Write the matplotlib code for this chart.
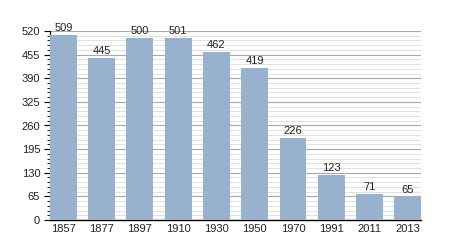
import numpy as np
import matplotlib.pyplot as plt
from matplotlib.ticker import MultipleLocator

years = ['1857', '1877', '1897', '1910', '1930', '1950', '1970', '1991', '2011', '2013']
population = [509, 445, 500, 501, 462, 419, 226, 123, 71, 65]
y_ticks = [0, 65, 130, 195, 260, 325, 390, 455, 520]

plt.rcParams['font.family'] = ['Liberation Sans', 'DejaVu Sans']

fig = plt.figure(figsize=(4.5, 2.5), dpi=100)
ax = fig.add_axes([0.111, 0.12, 0.825, 0.756])

x = np.arange(len(years))
bars = ax.bar(x, population, width=0.7, color='#98b1cd', zorder=3)

for xi, v in zip(x, population):
    ax.text(xi, v + 5, str(v), ha='center', va='bottom', fontsize=8, color='#222222')

ax.set_xlim(-0.35, len(years) - 0.65)
ax.set_ylim(0, 520)
ax.set_yticks(y_ticks)
ax.yaxis.set_minor_locator(MultipleLocator(13))
ax.set_xticks(x)
ax.set_xticklabels(years)

ax.grid(axis='y', which='major', color='#a8a8a8', lw=0.8, zorder=0)
ax.grid(axis='y', which='minor', color='#dcdcdc', lw=0.6, zorder=0)

for s in ['top', 'right']:
    ax.spines[s].set_visible(False)
ax.spines['left'].set_linewidth(0.8)
ax.spines['bottom'].set_linewidth(1.0)

ax.tick_params(axis='y', which='major', length=4, width=0.8, labelsize=8, pad=3, labelcolor='#222222')
ax.tick_params(axis='y', which='minor', length=2, width=0.6)
ax.tick_params(axis='x', length=0, labelsize=8, pad=3, labelcolor='#222222')

fig.savefig('out.png', dpi=100)
